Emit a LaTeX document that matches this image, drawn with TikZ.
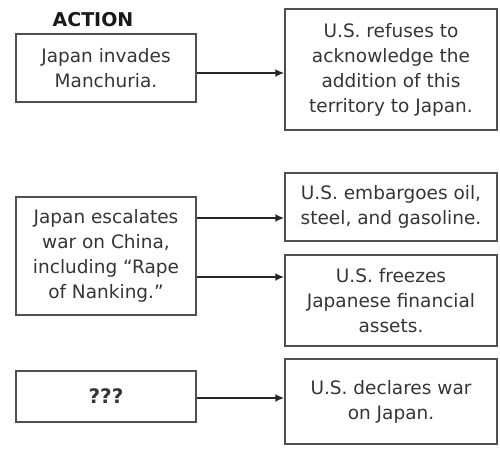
\documentclass[tikz,border=0pt]{standalone}
\usepackage{fontspec}
\setmainfont{DejaVu Sans}
\usetikzlibrary{arrows.meta}
\definecolor{txt}{HTML}{353535}
\definecolor{edge}{HTML}{505050}
\begin{document}
\begin{tikzpicture}[x=1pt,y=-1pt,
  box/.style={draw=edge,line width=1.5pt,rectangle,inner sep=0pt,align=center,
    text=txt,font=\fontsize{18.5}{25}\selectfont},
  arr/.style={draw=black!85,line width=2pt,-{Latex[length=9pt,width=8pt]}}]
\useasboundingbox (0,0) rectangle (500,450);
\node[font=\bfseries\fontsize{19}{20}\selectfont,text=black!90] (title) at (93,20) {ACTION};
\node[box,minimum width=180pt,minimum height=68pt] (l1) at (106,68) {Japan invades\\Manchuria.};
\node[box,minimum width=212pt,minimum height=121pt] (r1) at (391,69.5) {U.S. refuses to\\acknowledge the\\addition of this\\territory to Japan.};
\node[box,minimum width=180pt,minimum height=118pt] (l2) at (106,256) {Japan escalates\\war on China,\\including “Rape\\of Nanking.”};
\node[box,minimum width=212pt,minimum height=68pt] (r2) at (391,207) {U.S. embargoes oil,\\steel, and gasoline.};
\node[box,minimum width=212pt,minimum height=91pt] (r3) at (391,300.5) {U.S. freezes\\Japanese financial\\assets.};
\node[box,minimum width=180pt,minimum height=51pt,font=\bfseries\fontsize{20}{25}\selectfont] (l3) at (106,396.5) {???};
\node[box,minimum width=212pt,minimum height=85pt] (r4) at (391,401.5) {U.S. declares war\\on Japan.};
\draw[arr] (l1.east |- 0,73) -- (r1.west |- 0,73);
\draw[arr] (l2.east |- 0,218) -- (r2.west |- 0,218);
\draw[arr] (l2.east |- 0,277) -- (r3.west |- 0,277);
\draw[arr] (l3.east |- 0,398) -- (r4.west |- 0,398);
\end{tikzpicture}
\end{document}
